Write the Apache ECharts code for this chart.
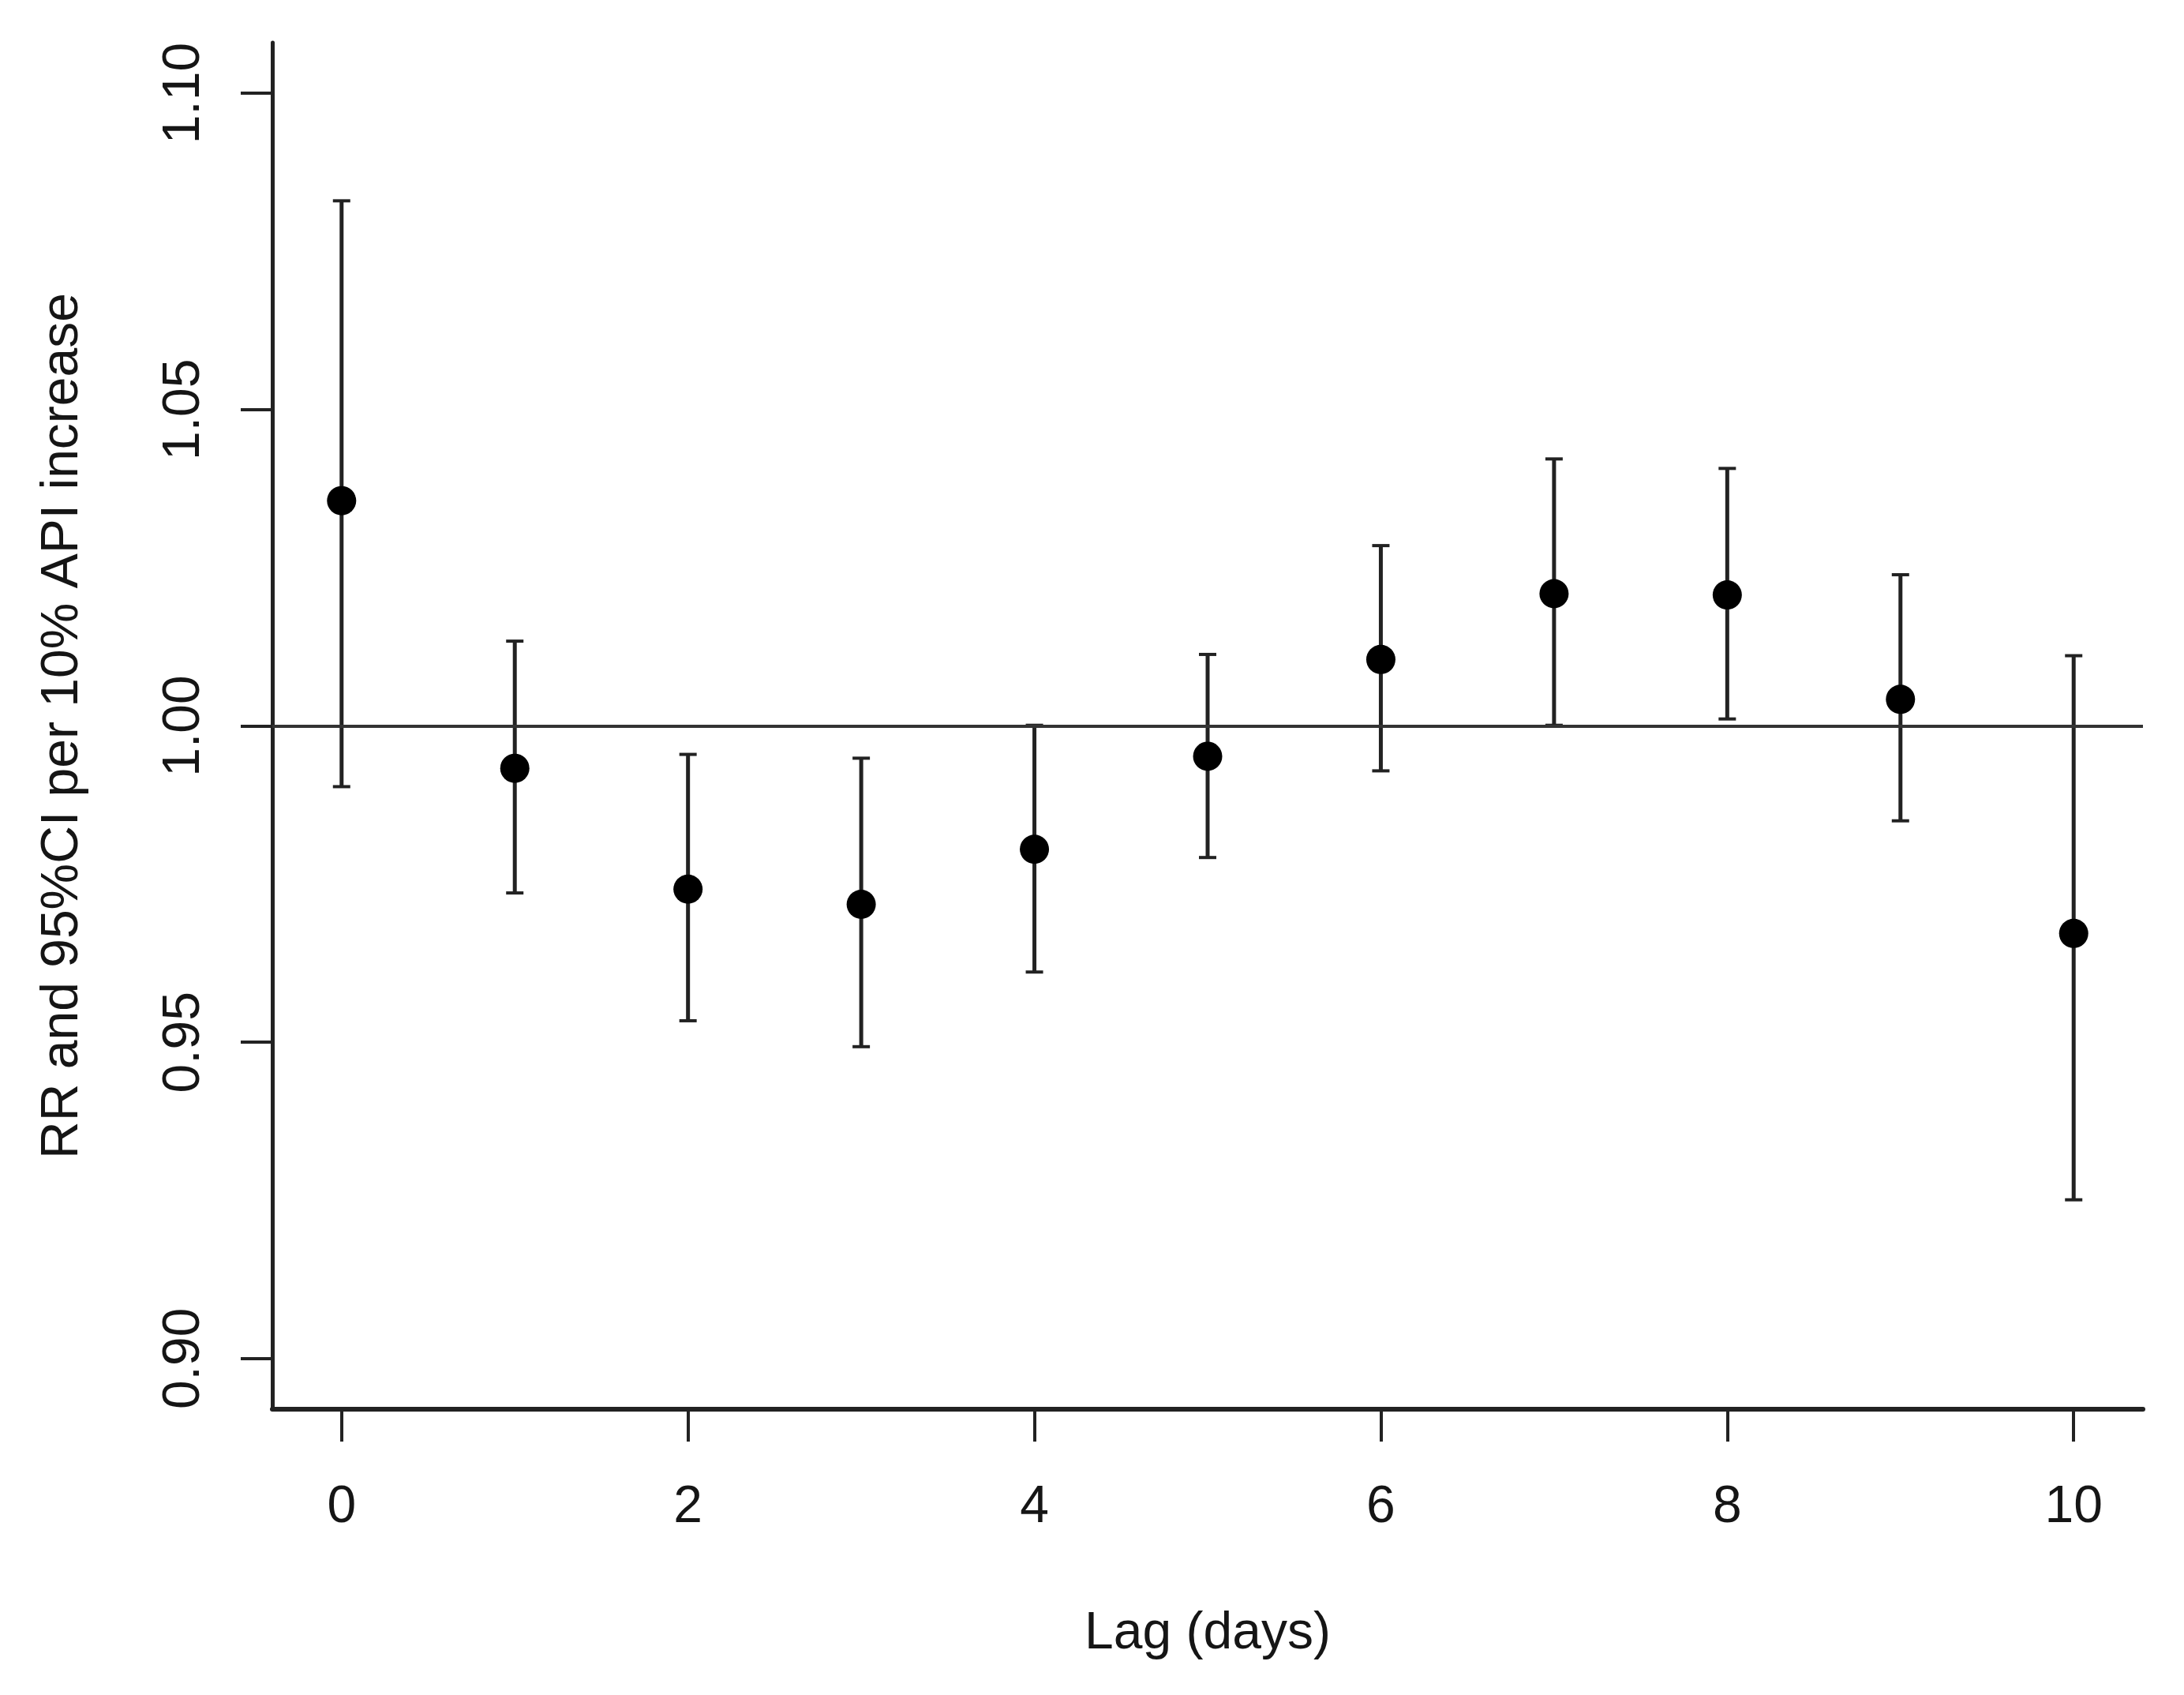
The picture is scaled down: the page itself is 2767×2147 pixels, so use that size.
<!DOCTYPE html>
<html>
<head>
<meta charset="utf-8">
<script src="https://cdn.jsdelivr.net/npm/echarts@6/dist/echarts.min.js"></script>
<style>
html,body{margin:0;padding:0;background:#fff;}
#chart{width:2767px;height:2147px;}
</style>
</head>
<body>
<div id="chart"></div>
<script>
const lags = [0, 1, 2, 3, 4, 5, 6, 7, 8, 9, 10];
const rr    = [1.0356, 0.9933, 0.9742, 0.9718, 0.9805, 0.9952, 1.0105, 1.0209, 1.0207, 1.0042, 0.9672];
const lower = [0.9904, 0.9736, 0.9534, 0.9493, 0.9611, 0.9792, 0.9929, 1.0001, 1.0011, 0.9850, 0.9251];
const upper = [1.0830, 1.0134, 0.9955, 0.9949, 1.0001, 1.0113, 1.0285, 1.0422, 1.0407, 1.0239, 1.0111];
const xTicks = [0, 2, 4, 6, 8, 10];
const yTicks = [0.90, 0.95, 1.00, 1.05, 1.10];
const refValue = 1.0;
const xTitle = 'Lag (days)';
const yTitle = 'RR and 95%CI per 10% API increase';

const FONT = "'Liberation Sans', Arial, Helvetica, sans-serif";
const INK = '#151515';

const chart = echarts.init(document.getElementById('chart'), null, {renderer: 'canvas'});

const pointData = lags.map((l, i) => [l, rr[i]]);
const ciData = lags.map((l, i) => [l, lower[i], upper[i]]);

chart.setOption({
  backgroundColor: '#ffffff',
  animation: false,
  grid: {left: 345, right: 52, top: 54, bottom: 362, containLabel: false, outerBoundsMode: 'none'},
  xAxis: {
    type: 'value', min: -0.4, max: 10.4,
    name: xTitle, nameLocation: 'middle', nameGap: 252,
    nameTextStyle: {fontFamily: FONT, fontSize: 66, color: INK},
    axisLine: {show: true, onZero: false, lineStyle: {color: '#222', width: 6}},
    axisTick: {show: true, length: 41, customValues: xTicks, lineStyle: {color: '#222', width: 4}},
    axisLabel: {show: true, customValues: xTicks, margin: 92, fontFamily: FONT, fontSize: 66, color: INK,
      formatter: v => String(v)},
    splitLine: {show: false}
  },
  yAxis: {
    type: 'value', min: 0.892, max: 1.108,
    name: yTitle, nameLocation: 'middle', nameGap: 232, nameRotate: 90,
    nameTextStyle: {fontFamily: FONT, fontSize: 66, color: INK},
    axisLine: {show: true, onZero: false, lineStyle: {color: '#222', width: 5}},
    axisTick: {show: true, length: 40, customValues: yTicks, lineStyle: {color: '#222', width: 4}},
    axisLabel: {show: true, customValues: yTicks, rotate: 90, margin: 78, fontFamily: FONT, fontSize: 66, color: INK,
      formatter: v => v.toFixed(2)},
    splitLine: {show: false}
  },
  series: [
    {
      type: 'custom',
      name: 'ci',
      data: ciData,
      z: 2,
      renderItem: function (params, api) {
        const x = api.value(0);
        const lo = api.coord([x, api.value(1)]);
        const hi = api.coord([x, api.value(2)]);
        const cap = 11;
        return {
          type: 'group',
          children: [
            {type: 'line', shape: {x1: lo[0], y1: lo[1], x2: hi[0], y2: hi[1]},
              style: {stroke: '#222', lineWidth: 5}},
            {type: 'line', shape: {x1: lo[0] - cap, y1: lo[1], x2: lo[0] + cap, y2: lo[1]},
              style: {stroke: '#222', lineWidth: 4}},
            {type: 'line', shape: {x1: hi[0] - cap, y1: hi[1], x2: hi[0] + cap, y2: hi[1]},
              style: {stroke: '#222', lineWidth: 4}}
          ]
        };
      },
      markLine: {
        silent: true, symbol: ['none', 'none'], label: {show: false},
        lineStyle: {color: '#333', width: 4, type: 'solid'},
        data: [{yAxis: refValue}]
      }
    },
    {
      type: 'scatter',
      name: 'RR',
      data: pointData,
      symbol: 'circle',
      symbolSize: 37,
      z: 3,
      itemStyle: {color: '#000', opacity: 1}
    }
  ]
});
</script>
</body>
</html>
